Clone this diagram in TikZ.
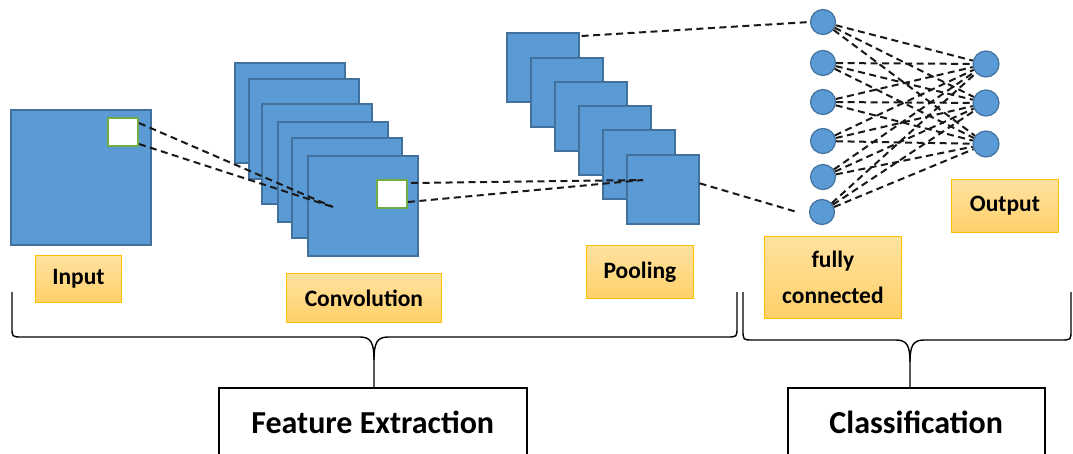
\documentclass[tikz,border=0pt]{standalone}
\usepackage{fontspec}
\setmainfont{Carlito}
\definecolor{mapblue}{RGB}{91,155,213}
\definecolor{mapedge}{RGB}{65,113,156}
\definecolor{wingreen}{RGB}{112,173,71}
\definecolor{labedge}{RGB}{255,192,0}
\definecolor{labtop}{RGB}{255,226,160}
\definecolor{labbot}{RGB}{255,208,105}
\begin{document}
\begin{tikzpicture}[x=1pt,y=-1pt,
  fmap/.style={draw=mapedge, fill=mapblue, line width=1.6pt, inner sep=0pt, anchor=north west},
  convmap/.style={fmap, minimum width=110pt, minimum height=100pt},
  poolmap/.style={fmap, minimum width=72pt, minimum height=69pt},
  win/.style={draw=wingreen, fill=white, line width=2pt, inner sep=0pt, anchor=north west, minimum width=30pt, minimum height=28pt},
  lab/.style={draw=labedge, top color=labtop, bottom color=labbot, line width=0.8pt, anchor=north west, inner sep=0pt, font=\fontsize{23.5}{36}\selectfont\bfseries, align=center},
  neuron/.style={circle, draw=mapedge, fill=mapblue, line width=1.2pt, minimum size=25pt, inner sep=0pt},
  conn/.style={dash pattern=on 7pt off 4.5pt, line width=2pt, black!90},
  brace/.style={line width=1.4pt, black},
  bigbox/.style={draw=black, line width=1.5pt, fill=white, anchor=north west, inner sep=0pt, font=\fontsize{32}{38}\selectfont\bfseries}
]
\clip (0,0) rectangle (1073,454);
\fill[white] (0,0) rectangle (1073,454);

% input
\node[fmap, minimum width=140pt, minimum height=135pt] (in) at (10,109) {};
\node[win] (inwin) at (107,117) {};
\node[lab, minimum width=86pt, minimum height=47pt] (linput) at (35,255) {Input};

% convolution stack
\node[convmap] (c1) at (234,62) {};
\node[convmap] (c2) at (248,78) {};
\node[convmap] (c3) at (261,103) {};
\node[convmap] (c4) at (277,121) {};
\node[convmap] (c5) at (291,137) {};
\node[convmap] (c6) at (307,155) {};
\node[win] (cwin) at (376,179) {};
\node[lab, minimum width=155pt, minimum height=49pt] (lconv) at (286,273) {Convolution};
\coordinate (ctarget) at (333,207);

% pooling stack
\node[poolmap] (p1) at (506,32) {};
\node[poolmap] (p2) at (530,57) {};
\node[poolmap] (p3) at (554,81) {};
\node[poolmap] (p4) at (578,105) {};
\node[poolmap] (p5) at (602,129) {};
\node[poolmap] (p6) at (626,154) {};
\node[lab, minimum width=107pt, minimum height=53pt] (lpool) at (586,245) {Pooling};
\coordinate (ptarget) at (643,180);

% fully connected
\node[neuron] (f1) at (823,22) {};
\node[neuron] (f2) at (823,63) {};
\node[neuron] (f3) at (823,102) {};
\node[neuron] (f4) at (823,141) {};
\node[neuron] (f5) at (823,177) {};
\node[neuron] (f6) at (822,212) {};
\node[neuron, minimum size=26pt] (o1) at (986,64) {};
\node[neuron, minimum size=26pt] (o2) at (986,103) {};
\node[neuron, minimum size=26pt] (o3) at (986,144) {};
\node[lab, minimum width=137pt, minimum height=82pt] (lfc) at (764,236) {fully\\connected};
\node[lab, minimum width=107pt, minimum height=53pt] (lout) at (951,179) {Output};

% connectors
\draw[conn] (inwin.north east) ++(0,6) coordinate (iw1) (iw1) -- (ctarget);
\draw[conn] (inwin.south east) ++(0,-3) coordinate (iw2) (iw2) -- (ctarget);
\draw[conn] (cwin.north east) ++(3,4) coordinate (cw1) (cw1) -- (ptarget);
\draw[conn] (cwin.south east) ++(0,-7) coordinate (cw2) (cw2) -- (ptarget);
\draw[conn] (p1.north east) ++(2,4) coordinate (pw1) (pw1) -- (f1.west);
\draw[conn] (p6.east) ++(0,-6) coordinate (pw6) (pw6) -- ([xshift=-12pt]f6.west);
\foreach \i in {1,...,6}{
  \foreach \j in {1,2,3}{
    \draw[conn] (f\i) -- (o\j);
  }
}

% braces
\coordinate (bl) at (12,292);
\coordinate (br) at (737,292);
\coordinate (btip) at (374,387);
\draw[brace] (bl) -- (12,327) .. controls (12,337) .. (22,337) -- (360,337) .. controls (371,337) and (374,343) .. (374,360) -- (btip);
\draw[brace] (br) -- (737,327) .. controls (737,337) .. (727,337) -- (388,337) .. controls (377,337) and (374,343) .. (374,360);
\coordinate (cl) at (743,292);
\coordinate (cr) at (1071,292);
\coordinate (ctip) at (910,387);
\draw[brace] (cl) -- (743,330) .. controls (743,340) .. (753,340) -- (896,340) .. controls (907,340) and (910,346) .. (910,362) -- (ctip);
\draw[brace] (cr) -- (1071,330) .. controls (1071,340) .. (1061,340) -- (924,340) .. controls (913,340) and (910,346) .. (910,362);

\node[bigbox, minimum width=308pt, minimum height=70pt] (fe) at (218,387) {Feature Extraction};
\node[bigbox, minimum width=257pt, minimum height=70pt] (cls) at (787,387) {Classification};
\end{tikzpicture}
\end{document}
